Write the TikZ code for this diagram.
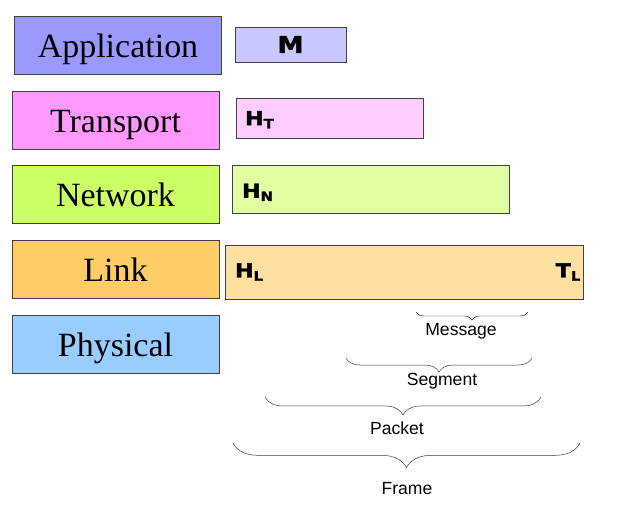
\documentclass[tikz,border=0pt]{standalone}
\usepackage{fontspec}
\setmainfont{Liberation Serif}
\setsansfont{Liberation Sans}
\newfontfamily\hdrfont[UprightFont=* Bold,FakeStretch=1.15,FakeBold=2]{DejaVu Sans}
\usepackage{xcolor}
\usepackage{tikz}
\usetikzlibrary{decorations.pathreplacing}

\definecolor{appc}{HTML}{9999FF}
\definecolor{trnc}{HTML}{FF99FF}
\definecolor{netc}{HTML}{CCFF66}
\definecolor{lnkc}{HTML}{FFCC66}
\definecolor{phyc}{HTML}{99CCFF}
\definecolor{msgc}{HTML}{C8C8FF}
\definecolor{segc}{HTML}{FFCCFF}
\definecolor{pktc}{HTML}{E0FFA0}
\definecolor{frmc}{HTML}{FFE0A0}

\newcommand{\hdrsub}[2]{#1\raisebox{-0.3ex}{\fontsize{11}{11}\selectfont #2}}

\begin{document}
\begin{tikzpicture}[x=0.03cm,y=-0.03cm,
   layer/.style={draw=black!75,fill=#1,minimum width=6.21cm,minimum height=1.74cm,
     inner sep=0pt,text height=0.76cm,text depth=0pt,font=\fontsize{29}{30}\selectfont},
   pdu/.style={draw=black!75,fill=#1,inner sep=0pt},
   hdr/.style={font=\hdrfont\fontsize{16.5}{16.5}\selectfont,inner sep=0pt},
   brc/.style={decorate,decoration={brace,mirror,amplitude=#1},draw=black!80,thin},
   lbl/.style={font=\sffamily\fontsize{15}{15}\selectfont,inner sep=0pt}]
  \useasboundingbox (0,0) rectangle (625,504);
  % protocol layers
  \node[layer=appc] (app) at (118,45) {Application};
  \node[layer=trnc] (trn) at (115.5,120) {Transport};
  \node[layer=netc] (net) at (115.5,194) {Network};
  \node[layer=lnkc] (lnk) at (115.5,269) {Link};
  \node[layer=phyc] (phy) at (115.5,344) {Physical};
  % encapsulated units
  \node[pdu=msgc,minimum width=3.33cm,minimum height=1.05cm] (msg) at (290.5,44.5) {};
  \node[pdu=segc,minimum width=5.61cm,minimum height=1.2cm] (seg) at (329.5,118) {};
  \node[pdu=pktc,minimum width=8.31cm,minimum height=1.44cm] (pkt) at (370.5,189) {};
  \node[pdu=frmc,minimum width=10.74cm,minimum height=1.62cm] (frm) at (404,272) {};
  \node[hdr,font=\hdrfont\fontsize{19.5}{19.5}\selectfont] (m) at (msg) {M};
  \node[hdr,anchor=west] (ht) at ([xshift=0.27cm,yshift=-0.05cm]seg.west) {\hdrsub{H}{T}};
  \node[hdr,anchor=west] (hn) at ([xshift=0.3cm,yshift=-0.1cm]pkt.west) {\hdrsub{H}{N}};
  \node[hdr,anchor=west] (hl) at ([xshift=0.3cm,yshift=0cm]frm.west) {\hdrsub{H}{L}};
  \node[hdr,anchor=east] (tl) at ([xshift=-0.08cm,yshift=0cm]frm.east) {\hdrsub{T}{L}};
  % braces
  \coordinate (msgL) at (416,312); \coordinate (msgR) at (528,312);
  \coordinate (segL) at (346,358); \coordinate (segR) at (532,358);
  \coordinate (pktL) at (265,397); \coordinate (pktR) at (541,397);
  \coordinate (frmL) at (233,443); \coordinate (frmR) at (580,443);
  \draw[brc=6.8pt] (msgL) -- (msgR);
  \draw[brc=12pt] (segL) -- (segR);
  \draw[brc=15.3pt] (pktL) -- (pktR);
  \draw[brc=21pt] (frmL) -- (frmR);
  \node[lbl] (msgT) at (461,331) {Message};
  \node[lbl] (segT) at (442,381) {Segment};
  \node[lbl] (pktT) at (397,428) {Packet};
  \node[lbl] (frmT) at (407,489) {Frame};
\end{tikzpicture}
\end{document}
